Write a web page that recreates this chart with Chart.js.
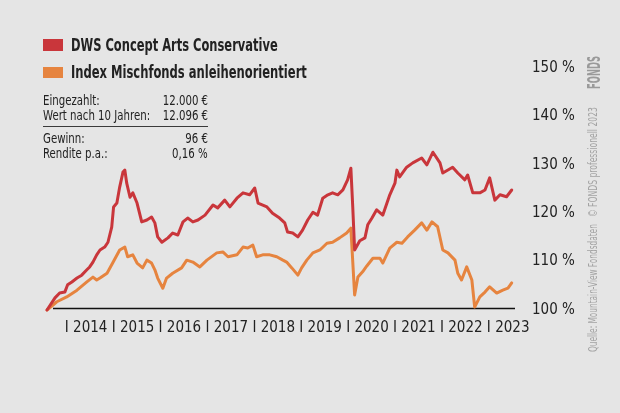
<!DOCTYPE html>
<html>
<head>
<meta charset="utf-8">
<script src="https://cdn.jsdelivr.net/npm/chart.js@4/dist/chart.umd.min.js"></script>
<style>
  html, body { margin:0; padding:0; background:#e5e5e5; }
  body { width:620px; height:413px; position:relative; overflow:hidden;
         font-family:'DejaVu Sans Condensed','DejaVu Sans',sans-serif; color:#222; }
  #c { position:absolute; left:0; top:0; }
  .sw { position:absolute; left:43px; width:19.5px; height:11.4px; }
  .lt { position:absolute; left:71px; font-weight:bold; font-size:17.5px; line-height:20px; white-space:nowrap; transform-origin:0 0; }
  .il { position:absolute; left:43px; font-size:14.5px; line-height:15px; white-space:nowrap; transform-origin:0 0; }
  .iv { position:absolute; right:412px; font-size:14.5px; line-height:15px; white-space:nowrap; transform-origin:100% 0; }
  .rule { position:absolute; left:43px; width:165px; top:126px; height:0; border-top:1.3px solid #3a3a3a; }
  .vt { position:absolute; transform-origin:0 0; white-space:nowrap; color:#a3a3a3; }
</style>
</head>
<body>
<canvas id="c" width="620" height="413"></canvas>

<div class="sw" style="top:39.4px; background:#c9363b"></div>
<div class="lt" id="l1" style="top:35px">DWS Concept Arts Conservative</div>
<div class="sw" style="top:66.6px; background:#e6843f"></div>
<div class="lt" id="l2" style="top:62px">Index Mischfonds anleihenorientiert</div>

<div class="il" style="top:93px">Eingezahlt:</div>
<div class="iv" style="top:93px">12.000 €</div>
<div class="il" id="wert" style="top:107.5px">Wert nach 10 Jahren:</div>
<div class="iv" style="top:107.5px">12.096 €</div>
<div class="rule"></div>
<div class="il" style="top:131px">Gewinn:</div>
<div class="iv" style="top:131px">96 €</div>
<div class="il" style="top:146px">Rendite p.a.:</div>
<div class="iv" style="top:146px">0,16 %</div>

<div class="vt" id="v1" style="left:586px; top:352px; font-size:13px; line-height:14px;">Quelle: Mountain-View Fondsdaten</div>
<div class="vt" id="v2" style="left:586px; top:217px; font-size:13px; line-height:14px;">© FONDS professionell 2023</div>
<div class="vt" id="v3" style="left:586px; top:89px; font-size:17px; line-height:17px; font-weight:bold; color:#9a9a9a;">FONDS</div>

<script>
// DWS Concept Arts Conservative (indexed, start = 100 %)
const dwsYears = [2013.62,2013.79,2013.89,2014.00,2014.06,2014.15,2014.26,2014.36,2014.47,2014.53,2014.60,2014.68,2014.75,2014.85,2014.92,
  2015.00,2015.04,2015.11,2015.17,2015.24,2015.28,2015.32,2015.39,2015.45,2015.54,2015.64,2015.75,2015.85,2015.92,2015.98,
  2016.07,2016.20,2016.30,2016.41,2016.52,2016.62,2016.73,2016.84,2016.99,
  2017.16,2017.26,2017.41,2017.52,2017.67,2017.80,2017.94,
  2018.05,2018.12,2018.31,2018.43,2018.58,2018.69,2018.75,2018.86,2018.97,
  2019.07,2019.18,2019.29,2019.39,2019.50,2019.61,2019.71,2019.82,2019.93,
  2020.03,2020.10,2020.14,2020.18,2020.29,2020.40,2020.46,2020.55,2020.65,2020.78,2020.93,
  2021.04,2021.08,2021.14,2021.29,2021.42,2021.61,2021.72,2021.85,
  2022.00,2022.06,2022.27,2022.38,2022.53,2022.59,2022.70,2022.85,2022.96,
  2023.06,2023.17,2023.28,2023.42,2023.53];
const dwsValues = [100.0,102.5,103.5,103.7,105.2,105.8,106.6,107.2,108.3,108.9,109.9,111.4,112.4,113.0,114.0,
  117.1,121.3,122.1,125.4,128.5,128.9,126.2,123.3,124.2,122.1,118.2,118.6,119.2,118.0,115.1,
  114.0,114.9,115.9,115.5,118.2,119.0,118.2,118.6,119.6,
  121.7,121.1,122.7,121.3,123.1,124.2,123.8,
  125.2,122.1,121.3,120.0,119.0,118.0,116.1,115.9,115.1,
  116.5,118.6,120.2,119.6,123.1,123.8,124.2,123.8,124.8,
  126.9,129.3,121.3,112.4,114.3,114.9,117.6,119.0,120.7,119.6,123.8,
  126.2,128.9,127.5,129.5,130.4,131.4,130.0,132.6,
  130.4,128.3,129.5,128.3,126.9,127.9,124.2,124.2,124.8,
  127.3,122.7,123.8,123.4,124.8];

// Index Mischfonds anleihenorientiert (indexed, start = 100 %)
const idxYears = [2013.62,2013.83,2014.04,2014.26,2014.47,2014.60,2014.68,2014.75,2014.90,
  2015.02,2015.17,2015.28,2015.34,2015.45,2015.54,2015.66,2015.75,2015.85,2015.92,2015.98,
  2016.09,2016.17,2016.30,2016.49,2016.60,2016.73,2016.88,
  2017.03,2017.24,2017.37,2017.48,2017.67,2017.80,2017.90,
  2018.01,2018.09,2018.22,2018.37,2018.52,2018.65,2018.73,2018.84,2018.97,
  2019.05,2019.16,2019.29,2019.44,2019.59,2019.71,2019.86,
  2020.01,2020.10,2020.18,2020.25,2020.35,2020.44,2020.57,2020.72,2020.78,2020.93,
  2021.08,2021.19,2021.31,2021.46,2021.61,2021.72,2021.83,2021.95,
  2022.06,2022.17,2022.32,2022.38,2022.46,2022.57,2022.68,2022.74,2022.85,2022.96,
  2023.06,2023.21,2023.34,2023.45,2023.53];
const idxValues = [100.0,101.7,102.7,104.1,105.8,106.8,106.2,106.6,107.6,
  109.7,112.4,113.0,111.0,111.4,109.7,108.7,110.3,109.7,108.3,106.6,
  104.5,106.6,107.6,108.7,110.3,109.9,108.9,
  110.3,111.8,112.0,111.0,111.4,113.0,112.8,
  113.4,111.0,111.4,111.4,111.0,110.3,109.9,108.7,107.2,
  108.7,110.3,111.8,112.4,113.8,114.0,114.9,
  115.9,116.9,103.1,106.8,107.9,109.1,110.7,110.7,109.7,112.8,
  114.0,113.8,115.1,116.5,118.0,116.5,118.2,117.2,
  112.4,111.8,110.3,107.6,106.2,108.9,106.2,100.6,102.7,103.7,
  104.8,103.5,104.1,104.5,105.6];

const yearTicks = [2014,2015,2016,2017,2018,2019,2020,2021,2022,2023];
const yTicks = [100,110,120,130,140,150];

// fit HTML text widths to the reference (condensed face emulation)
function fit(el, target, pre) {
  const k = target / el.offsetWidth;
  el.style.transform = (pre || '') + ' scaleX(' + k + ')';
  return k;
}
fit(document.getElementById('l1'), 207);
fit(document.getElementById('l2'), 236);
const kInfo = 107 / document.getElementById('wert').offsetWidth;
document.querySelectorAll('.il,.iv').forEach(el => { el.style.transform = 'scaleX(' + kInfo + ')'; });
fit(document.getElementById('v1'), 128, 'rotate(-90deg)');
fit(document.getElementById('v2'), 110, 'rotate(-90deg)');
fit(document.getElementById('v3'), 33, 'rotate(-90deg)');

const FONT = "'DejaVu Sans Condensed','DejaVu Sans',sans-serif";

const baseline = {
  id: 'baseline',
  beforeDatasetsDraw(chart) {
    const ctx = chart.ctx, y = chart.scales.y.getPixelForValue(100) - 1.5;
    ctx.save();
    ctx.strokeStyle = '#111';
    ctx.lineWidth = 1.3;
    ctx.beginPath();
    ctx.moveTo(53, y);
    ctx.lineTo(chart.chartArea.right, y);
    ctx.stroke();
    ctx.restore();
  }
};

new Chart(document.getElementById('c'), {
  type: 'line',
  data: {
    datasets: [
      { label: 'DWS Concept Arts Conservative',
        data: dwsYears.map((x, i) => ({ x, y: dwsValues[i] })),
        borderColor: '#c9363b', borderWidth: 3, pointRadius: 0, tension: 0,
        borderJoinStyle: 'round', borderCapStyle: 'round', clip: false },
      { label: 'Index Mischfonds anleihenorientiert',
        data: idxYears.map((x, i) => ({ x, y: idxValues[i] })),
        borderColor: '#e6843f', borderWidth: 3, pointRadius: 0, tension: 0,
        borderJoinStyle: 'round', borderCapStyle: 'round', clip: false }
    ]
  },
  options: {
    responsive: false,
    animation: false,
    layout: { padding: { left: 47, top: 68, right: 0, bottom: 0 } },
    plugins: { legend: { display: false }, tooltip: { enabled: false } },
    scales: {
      x: {
        type: 'linear', min: 2013.62, max: 2023.6,
        grid: { display: false, drawTicks: false }, border: { display: false },
        afterBuildTicks: s => { s.ticks = yearTicks.map(v => ({ value: v })); },
        afterFit: s => { s.height = 103; },
        ticks: { align: 'start', padding: 9, color: '#222', maxRotation: 0, autoSkip: false,
                 font: { family: FONT, size: 15 },
                 callback: v => 'I ' + v }
      },
      y: {
        position: 'right', min: 100, max: 150,
        grid: { display: false, drawTicks: false }, border: { display: false },
        afterBuildTicks: s => { s.ticks = yTicks.map(v => ({ value: v })); },
        afterFit: s => { s.width = 105; },
        ticks: { padding: 17, color: '#222', font: { family: FONT, size: 15 },
                 callback: v => v + ' %' }
      }
    }
  },
  plugins: [baseline]
});
</script>
</body>
</html>
